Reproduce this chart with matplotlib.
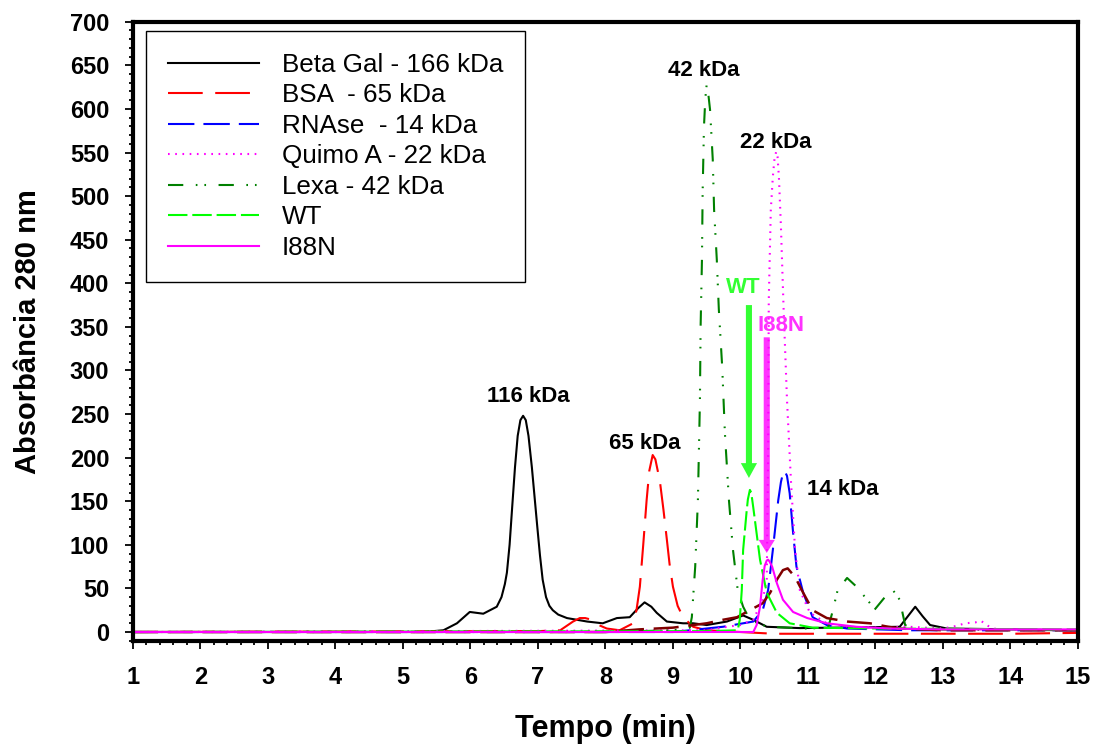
import matplotlib
matplotlib.use("Agg")
import matplotlib.pyplot as plt
from matplotlib.ticker import MultipleLocator

plt.rcParams['font.family'] = ['Liberation Sans', 'DejaVu Sans']
plt.rcParams['lines.scale_dashes'] = False

# Elution profiles (tempo in min, absorbance at 280 nm)
beta_gal_t = [1, 5.3, 5.6, 5.8, 5.99, 6.19, 6.39, 6.46, 6.51, 6.54, 6.58, 6.62, 6.66,
              6.70, 6.74, 6.78, 6.82, 6.86, 6.91, 6.95, 6.99, 7.03, 7.07, 7.12, 7.17,
              7.22, 7.30, 7.43, 7.73, 7.96, 8.17, 8.36, 8.48, 8.58, 8.68, 8.76, 8.91,
              9.15, 9.3, 9.5, 9.8, 10.04, 10.19, 10.39, 10.88, 12.36, 12.48, 12.59,
              12.7, 12.81, 13.06, 15]
beta_gal_a = [0, 0, 2, 10, 23, 21, 29, 40, 55, 68, 100, 145, 189,
              225, 243, 248, 243, 225, 189, 155, 121, 88, 60, 40, 30,
              25, 20, 16, 12, 10, 16, 17, 27, 34, 29, 22, 12,
              10, 10, 8, 12, 19, 14, 6, 4.5, 6, 18, 29,
              18, 8, 4, 2]

bsa_t = [1, 7.0, 7.33, 7.52, 7.62, 7.70, 7.8, 7.9, 8.02, 8.21, 8.41, 8.46, 8.51,
         8.56, 8.61, 8.65, 8.70, 8.74, 8.78, 8.81, 8.86, 8.91, 8.95, 9.0, 9.07,
         9.15, 9.3, 9.5, 10.0, 10.5, 11.0, 12.0, 13.0, 14.0, 15]
bsa_a = [0, 1, 2, 12, 16, 16, 14, 8, 4, 2, 10, 25, 52,
         100, 151, 185, 203, 198, 183, 171, 140, 106, 78, 52, 30,
         17, 6, 2, 0, -2, -2, -2, -2, -2, -1]

rnase_t = [1, 9.0, 9.25, 9.74, 10.19, 10.33, 10.41, 10.48, 10.56, 10.60, 10.63,
           10.66, 10.69, 10.73, 10.78, 10.83, 10.93, 11.07, 11.28, 11.58, 12.5, 15]
rnase_a = [0, 0, 2, 6, 12, 25, 48, 94, 151, 172, 182,
           184, 179, 159, 114, 75, 45, 17, 8, 4, 2, 2]

quimo_t = [1, 9.5, 9.8, 10.0, 10.19, 10.33, 10.39, 10.41, 10.42, 10.45, 10.48,
           10.505, 10.53, 10.55, 10.57, 10.60, 10.64, 10.69, 10.75, 10.81, 10.88,
           11.03, 11.28, 11.6, 12.0, 12.5, 13.0, 13.2, 13.33, 13.48, 13.56, 13.67,
           13.8, 14.2, 15]
quimo_a = [0, 2, 6, 8, 14, 37, 60, 200, 381, 484, 522,
           543, 551, 545, 522, 465, 370, 266, 171, 94, 48,
           22, 10, 6, 5, 6, 4, 7, 10, 11, 13, 7,
           3, 2, 2]

lexa_t = [1, 8.0, 9.0, 9.25, 9.28, 9.33, 9.37, 9.40, 9.41, 9.43, 9.44, 9.46, 9.48,
          9.50, 9.52, 9.55, 9.59, 9.61, 9.65, 9.68, 9.73, 9.77, 9.83, 9.89, 9.96,
          10.04, 10.14, 10.4, 11.0, 11.3, 11.36, 11.44, 11.58, 11.72, 11.92, 11.96,
          12.14, 12.26, 12.36, 12.44, 12.6, 15]
lexa_a = [0, 0, 2, 5, 17, 75, 151, 266, 350, 427, 504, 580, 612,
          628, 620, 599, 542, 484, 427, 370, 304, 228, 151, 94, 48,
          29, 14, 6, 4, 5, 22, 48, 62, 52, 33, 23,
          40, 48, 37, 8, 3, 2]

wt_t = [1, 9.5, 9.96, 9.99, 10.02, 10.04, 10.09, 10.11, 10.14, 10.16, 10.19, 10.24,
        10.29, 10.39, 10.54, 10.73, 11.07, 12.0, 15]
wt_a = [0, 1, 2, 14, 48, 94, 137, 152, 163, 160, 143, 113,
        83, 45, 22, 10, 5, 4, 3]

i88n_t = [1, 10.19, 10.24, 10.29, 10.33, 10.36, 10.39, 10.41, 10.43, 10.47, 10.54,
          10.63, 10.78, 10.99, 11.28, 11.72, 12.21, 12.96, 14, 15]
i88n_a = [0, 0, 8, 29, 60, 76, 82, 83, 81, 75, 56,
          37, 23, 16, 10, 6, 4, 3, 3, 3]

extra_t = [1, 8.0, 8.5, 9.0, 9.5, 9.74, 9.95, 10.14, 10.33, 10.44, 10.54, 10.63,
           10.70, 10.81, 10.93, 11.07, 11.28, 11.58, 11.92, 12.19, 12.36, 13.0, 15]
extra_a = [0, 0, 3, 5, 10, 14, 17, 25, 33, 45, 60, 71,
           73, 63, 45, 25, 16, 12, 10, 6, 4, 2, 2]

# peak labels: text, x, y
peak_labels = ["116 kDa", "65 kDa", "42 kDa", "22 kDa", "14 kDa"]
peak_label_x = [6.85, 8.585, 9.46, 10.53, 11.52]
peak_label_y = [270, 216, 644, 561, 163]

fig = plt.figure(figsize=(10.97, 7.44), dpi=100)
ax = fig.add_axes([0.1212, 0.1388, 0.8614, 0.8320])

ax.plot(beta_gal_t, beta_gal_a, color='black', lw=1.5, label='Beta Gal - 166 kDa')
ax.plot(bsa_t, bsa_a, color='red', lw=1.5, linestyle=(0, (25, 9)), label='BSA  - 65 kDa')
ax.plot(rnase_t, rnase_a, color='blue', lw=1.5, linestyle=(0, (19, 6.5)), label='RNAse  - 14 kDa')
ax.plot(quimo_t, quimo_a, color='magenta', lw=1.5, linestyle=(0, (1.2, 4)), label='Quimo A - 22 kDa')
ax.plot(lexa_t, lexa_a, color='#008000', lw=1.5, linestyle=(0, (11, 9, 1.2, 5, 1.2, 9)),
        label='Lexa - 42 kDa')
ax.plot(extra_t, extra_a, color='#800000', lw=1.8, linestyle=(0, (18, 7)))
ax.plot(wt_t, wt_a, color='#00FF00', lw=1.5, linestyle=(0, (14, 3.5)), label='WT')
ax.plot(i88n_t, i88n_a, color='magenta', lw=1.5, label='I88N')

for txt, tx, ty in zip(peak_labels, peak_label_x, peak_label_y):
    ax.text(tx, ty, txt, fontsize=16, fontweight='bold', ha='center', va='center')

# arrows marking WT and I88N elution
ax.arrow(10.126, 375, 0, 176.7 - 375, width=0.09, head_width=0.24, head_length=17,
         length_includes_head=True, color='#33FF33', lw=0)
ax.text(10.04, 395, 'WT', color='#33FF33', fontsize=16, fontweight='bold',
        ha='center', va='center')
ax.arrow(10.39, 338, 0, 90.7 - 338, width=0.09, head_width=0.24, head_length=15,
         length_includes_head=True, color='#FF33FF', lw=0)
ax.text(10.6, 352, 'I88N', color='#FF33FF', fontsize=16, fontweight='bold',
        ha='center', va='center')

ax.set_xlim(1, 15)
ax.set_ylim(-10, 700)
ax.xaxis.set_major_locator(MultipleLocator(1))
ax.xaxis.set_minor_locator(MultipleLocator(0.2))
ax.yaxis.set_major_locator(MultipleLocator(50))
ax.yaxis.set_minor_locator(MultipleLocator(10))

for s in ax.spines.values():
    s.set_linewidth(3)
ax.tick_params(which='major', direction='out', length=6, width=1.3)
ax.tick_params(which='minor', direction='out', length=3, width=1.3)
ax.tick_params(axis='y', pad=11)
ax.tick_params(axis='x', pad=12)
for lab in ax.get_xticklabels() + ax.get_yticklabels():
    lab.set_fontsize(17)
    lab.set_fontweight('bold')

ax.set_xlabel('Tempo (min)', fontsize=22, fontweight='bold', labelpad=18)
ax.set_ylabel('Absorbância 280 nm', fontsize=21, fontweight='bold', labelpad=20)

leg = ax.legend(loc='upper left', bbox_to_anchor=(0.0138, 0.985), borderaxespad=0,
                fontsize=18.7, handlelength=3.5, handletextpad=0.9, borderpad=0.84,
                labelspacing=0.25, fancybox=False, framealpha=1, edgecolor='black')
leg.get_frame().set_linewidth(1.0)

fig.savefig('out.png', dpi=100)
